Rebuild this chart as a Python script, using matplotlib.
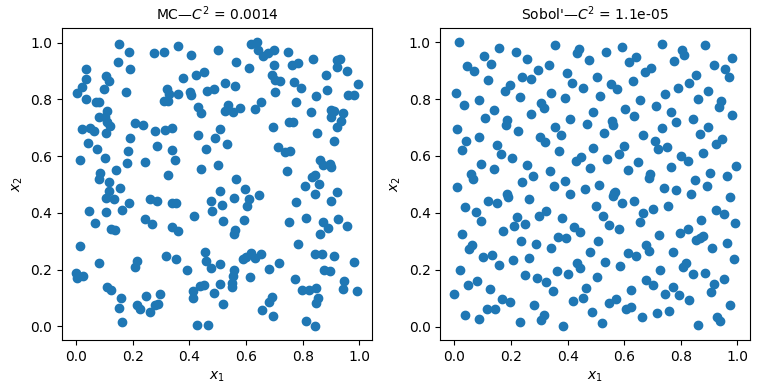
import numpy as np
import matplotlib
matplotlib.use("Agg")
import matplotlib.pyplot as plt

# points
mc_x = [0.150, 0.186, 0.276, 0.310, 0.358, 0.406, 0.147, 0.189, 0.036, 0.036,
        0.104, 0.116, 0.097, 0.020, 0.004, 0.036, 0.070, 0.081, 0.175, 0.319,
        0.328, 0.358, 0.311, 0.325, 0.378, 0.422, 0.452, 0.402, 0.406, 0.461,
        0.485, 0.429, 0.441, 0.107, 0.081, 0.101, 0.107, 0.118, 0.021, 0.047,
        0.063, 0.104, 0.209, 0.234, 0.278, 0.313, 0.338, 0.189, 0.040, 0.072,
        0.285, 0.338, 0.429, 0.491, 0.459, 0.012, 0.101, 0.182, 0.179, 0.243,
        0.349, 0.083, 0.081, 0.140, 0.115, 0.323, 0.441,
        0.501, 0.616, 0.639, 0.642, 0.660, 0.678, 0.698, 0.749, 0.563, 0.611,
        0.699, 0.763, 0.784, 0.835, 0.923, 0.932, 0.921, 0.957, 0.692, 0.704,
        0.721, 0.769, 0.793, 0.884, 0.996, 0.524, 0.560, 0.701, 0.887, 0.847,
        0.959, 0.982, 0.776, 0.653, 0.632, 0.536, 0.524, 0.554, 0.578, 0.829,
        0.900, 0.910, 0.902, 0.942, 0.935, 0.920, 0.752, 0.766, 0.696, 0.507,
        0.851, 0.911, 0.533, 0.713, 0.737, 0.757, 0.862, 0.873, 0.898, 0.902,
        0.501, 0.745, 0.563, 0.834, 0.845,
        0.154, 0.116, 0.106, 0.132, 0.185, 0.044, 0.106, 0.163, 0.065, 0.261,
        0.286, 0.340, 0.351, 0.244, 0.267, 0.340, 0.360, 0.124, 0.138, 0.415,
        0.476, 0.480, 0.012, 0.079, 0.215, 0.209, 0.316, 0.354, 0.393, 0.454,
        0.458, 0.476, 0.000, 0.004, 0.024, 0.109, 0.124, 0.157, 0.151, 0.216,
        0.224, 0.246, 0.260, 0.277, 0.289, 0.297, 0.412, 0.413, 0.437, 0.452,
        0.487, 0.163, 0.428, 0.466,
        0.507, 0.595, 0.645, 0.611, 0.603, 0.557, 0.515, 0.519, 0.593, 0.560,
        0.557, 0.809, 0.858, 0.843, 0.922, 0.901, 0.777, 0.812, 0.752, 0.873,
        0.888, 0.862, 0.926, 0.957, 0.782, 0.843, 0.867, 0.910, 0.982, 0.507,
        0.589, 0.601, 0.619, 0.631, 0.654, 0.717, 0.681, 0.556, 0.554, 0.613,
        0.875, 0.898, 0.772, 0.507, 0.550, 0.550, 0.519, 0.799, 0.823, 0.849,
        0.855, 0.847, 0.946, 0.943, 0.993, 0.690, 0.681, 0.658, 0.696, 0.811,
        0.843]
mc_y = [0.994, 0.968, 0.965, 0.968, 0.990, 0.957, 0.932, 0.907, 0.907, 0.872,
        0.884, 0.864, 0.836, 0.843, 0.823, 0.801, 0.791, 0.791, 0.827, 0.836,
        0.819, 0.820, 0.795, 0.795, 0.875, 0.886, 0.897, 0.828, 0.814, 0.829,
        0.836, 0.773, 0.751, 0.759, 0.739, 0.737, 0.722, 0.707, 0.696, 0.700,
        0.689, 0.680, 0.716, 0.709, 0.689, 0.692, 0.698, 0.664, 0.648, 0.627,
        0.635, 0.623, 0.673, 0.664, 0.625, 0.586, 0.592, 0.617, 0.576, 0.581,
        0.586, 0.541, 0.520, 0.550, 0.508, 0.532, 0.554,
        0.974, 0.994, 1.002, 0.974, 0.955, 0.964, 0.973, 0.968, 0.933, 0.911,
        0.923, 0.921, 0.929, 0.944, 0.938, 0.943, 0.915, 0.901, 0.888, 0.870,
        0.866, 0.861, 0.842, 0.885, 0.856, 0.858, 0.849, 0.828, 0.833, 0.813,
        0.816, 0.816, 0.792, 0.792, 0.766, 0.781, 0.761, 0.757, 0.770, 0.757,
        0.764, 0.760, 0.738, 0.752, 0.723, 0.702, 0.721, 0.720, 0.702, 0.697,
        0.681, 0.654, 0.642, 0.632, 0.615, 0.619, 0.587, 0.569, 0.571, 0.561,
        0.569, 0.548, 0.518, 0.528, 0.533,
        0.489, 0.477, 0.454, 0.450, 0.433, 0.407, 0.403, 0.409, 0.365, 0.450,
        0.442, 0.436, 0.433, 0.380, 0.361, 0.350, 0.336, 0.342, 0.338, 0.389,
        0.442, 0.407, 0.283, 0.224, 0.230, 0.208, 0.247, 0.236, 0.200, 0.262,
        0.230, 0.206, 0.188, 0.171, 0.177, 0.138, 0.129, 0.098, 0.063, 0.075,
        0.061, 0.105, 0.050, 0.074, 0.080, 0.113, 0.125, 0.100, 0.141, 0.144,
        0.118, 0.014, 0.003, 0.003,
        0.477, 0.483, 0.463, 0.448, 0.424, 0.453, 0.427, 0.371, 0.375, 0.339,
        0.324, 0.495, 0.501, 0.466, 0.475, 0.442, 0.439, 0.383, 0.368, 0.368,
        0.348, 0.326, 0.380, 0.354, 0.291, 0.256, 0.256, 0.247, 0.227, 0.220,
        0.236, 0.245, 0.257, 0.241, 0.256, 0.223, 0.201, 0.200, 0.177, 0.173,
        0.200, 0.194, 0.168, 0.149, 0.153, 0.139, 0.079, 0.127, 0.129, 0.136,
        0.100, 0.082, 0.161, 0.133, 0.123, 0.102, 0.086, 0.056, 0.035, 0.018,
        0.002]

sobol_x = [0.017, 0.159, 0.217, 0.258, 0.356, 0.433, 0.439, 0.474, 0.106, 0.128,
           0.046, 0.069, 0.120, 0.240, 0.271, 0.294, 0.333, 0.399, 0.415, 0.453,
           0.006, 0.032, 0.088, 0.177, 0.198, 0.230, 0.343, 0.389, 0.307, 0.316,
           0.141, 0.109, 0.187, 0.181, 0.269, 0.223, 0.410, 0.488, 0.467, 0.010,
           0.042, 0.085, 0.025, 0.152, 0.164, 0.205, 0.301, 0.320, 0.357, 0.375,
           0.371, 0.491, 0.095, 0.138, 0.060, 0.067, 0.255, 0.279, 0.336, 0.429,
           0.447, 0.478, 0.237, 0.389,
           0.504, 0.536, 0.593, 0.734, 0.804, 0.813, 0.887, 0.618, 0.642, 0.775,
           0.982, 0.673, 0.695, 0.919, 0.958, 0.971, 0.631, 0.553, 0.575, 0.852,
           0.829, 0.791, 0.514, 0.745, 0.897, 0.861, 0.656, 0.713, 0.943, 0.936,
           0.603, 0.635, 0.766, 0.782, 0.844, 0.982, 0.557, 0.560, 0.734, 0.897,
           0.527, 0.667, 0.708, 0.719, 0.753, 0.868, 0.925, 0.945, 0.599, 0.581,
           0.539, 0.801, 0.824, 0.879, 0.649, 0.614, 0.766, 0.691, 0.687, 0.904,
           0.964, 0.996, 0.851,
           0.010, 0.351, 0.460, 0.407, 0.185, 0.191, 0.265, 0.118, 0.152, 0.038,
           0.076, 0.095, 0.220, 0.209, 0.248, 0.299, 0.325, 0.379, 0.421, 0.445,
           0.170, 0.028, 0.367, 0.396, 0.236, 0.287, 0.340, 0.062, 0.053, 0.102,
           0.132, 0.159, 0.207, 0.262, 0.478, 0.432, 0.442, 0.019, 0.249, 0.290,
           0.325, 0.364, 0.400, 0.049, 0.079, 0.127, 0.000, 0.168, 0.198, 0.348,
           0.466, 0.456, 0.419, 0.281, 0.115, 0.145, 0.039, 0.088, 0.230, 0.305,
           0.315, 0.382, 0.485,
           0.512, 0.741, 0.783, 0.893, 0.501, 0.563, 0.569, 0.559, 0.592, 0.635,
           0.837, 0.975, 0.525, 0.546, 0.582, 0.667, 0.656, 0.702, 0.755, 0.926,
           0.951, 0.872, 0.992, 0.507, 0.723, 0.796, 0.824, 0.854, 0.867, 0.878,
           0.964, 0.911, 0.614, 0.641, 0.678, 0.688, 0.773, 0.531, 0.585, 0.808,
           0.820, 0.989, 0.504, 0.727, 0.844, 0.886, 0.677, 0.702, 0.624, 0.773,
           0.745, 0.794, 0.828, 0.919, 0.905, 0.953, 0.546, 0.571, 0.608, 0.624,
           0.663, 0.716, 0.759, 0.975, 0.522, 0.861, 0.929, 0.939]
sobol_y = [1.000, 0.979, 0.964, 0.940, 0.989, 0.962, 0.976, 0.936, 0.950, 0.925,
           0.916, 0.897, 0.866, 0.879, 0.869, 0.901, 0.920, 0.891, 0.858, 0.840,
           0.820, 0.780, 0.796, 0.829, 0.849, 0.809, 0.823, 0.805, 0.785, 0.768,
           0.760, 0.734, 0.728, 0.708, 0.748, 0.688, 0.731, 0.756, 0.713, 0.693,
           0.653, 0.668, 0.622, 0.639, 0.607, 0.593, 0.665, 0.648, 0.702, 0.674,
           0.617, 0.629, 0.571, 0.554, 0.537, 0.518, 0.568, 0.529, 0.547, 0.583,
           0.596, 0.558, 0.508, 0.512,
           0.879, 0.966, 0.983, 0.994, 0.974, 0.955, 0.990, 0.929, 0.947, 0.933,
           0.943, 0.894, 0.909, 0.920, 0.905, 0.876, 0.862, 0.852, 0.837, 0.884,
           0.856, 0.840, 0.811, 0.817, 0.828, 0.799, 0.796, 0.777, 0.792, 0.773,
           0.766, 0.741, 0.756, 0.721, 0.731, 0.745, 0.723, 0.708, 0.697, 0.700,
           0.680, 0.674, 0.654, 0.625, 0.632, 0.678, 0.642, 0.660, 0.635, 0.607,
           0.590, 0.601, 0.581, 0.610, 0.577, 0.551, 0.562, 0.537, 0.522, 0.540,
           0.529, 0.566, 0.516,
           0.490, 0.495, 0.483, 0.466, 0.466, 0.456, 0.447, 0.442, 0.433, 0.421,
           0.403, 0.371, 0.385, 0.354, 0.362, 0.389, 0.407, 0.383, 0.350, 0.332,
           0.336, 0.326, 0.315, 0.312, 0.300, 0.291, 0.276, 0.286, 0.271, 0.245,
           0.252, 0.217, 0.233, 0.240, 0.263, 0.224, 0.205, 0.198, 0.180, 0.170,
           0.157, 0.195, 0.184, 0.145, 0.161, 0.131, 0.114, 0.098, 0.085, 0.125,
           0.134, 0.102, 0.089, 0.074, 0.063, 0.060, 0.042, 0.026, 0.016, 0.023,
           0.040, 0.003, 0.050,
           0.499, 0.486, 0.481, 0.495, 0.424, 0.469, 0.474, 0.460, 0.436, 0.442,
           0.465, 0.454, 0.389, 0.358, 0.344, 0.401, 0.368, 0.415, 0.424, 0.410,
           0.396, 0.375, 0.364, 0.301, 0.322, 0.329, 0.343, 0.304, 0.312, 0.318,
           0.293, 0.277, 0.258, 0.247, 0.285, 0.265, 0.262, 0.227, 0.213, 0.210,
           0.224, 0.237, 0.173, 0.198, 0.185, 0.188, 0.164, 0.145, 0.128, 0.138,
           0.114, 0.111, 0.092, 0.148, 0.120, 0.166, 0.082, 0.098, 0.062, 0.070,
           0.033, 0.046, 0.054, 0.075, 0.011, 0.007, 0.033, 0.018]

titles = ["MC\u2014$C^2$ = 0.0014", "Sobol'\u2014$C^2$ = 1.1e-05"]

fig, axes = plt.subplots(1, 2, figsize=(7.68, 3.84), dpi=100)
for ax, xs, ys, title in zip(axes, [mc_x, sobol_x], [mc_y, sobol_y], titles):
    ax.scatter(xs, ys)
    ax.set_title(title, fontsize=10)
    ax.set_xlabel("$x_1$")
    ax.set_ylabel("$x_2$")
    ax.set_xticks(np.arange(0, 1.01, 0.2))
    ax.set_yticks(np.arange(0, 1.01, 0.2))

fig.subplots_adjust(left=0.081, right=0.977, bottom=0.115, top=0.927, wspace=0.22)
fig.savefig("out.png", dpi=100)
